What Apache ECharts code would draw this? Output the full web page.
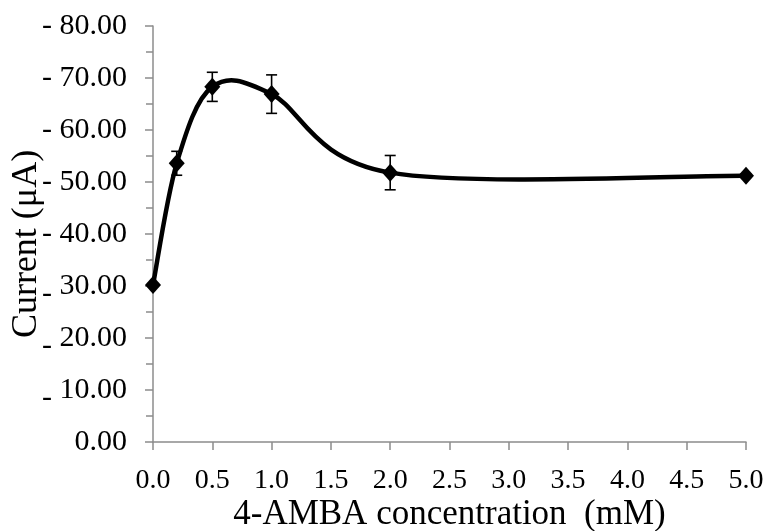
<!DOCTYPE html>
<html>
<head>
<meta charset="utf-8">
<script src="https://cdn.jsdelivr.net/npm/echarts@6/dist/echarts.min.js"></script>
<style>
html,body{margin:0;padding:0;background:#fff;}
#chart{width:767px;height:531px;}
</style>
</head>
<body>
<div id="chart"></div>
<script>
// Data
const concentrations = [0, 0.2, 0.5, 1.0, 2.0, 5.0];          // mM
const currents = [-30.2, -53.6, -68.3, -66.9, -51.8, -51.2];   // µA
const errors = [0.3, 2.3, 2.8, 3.7, 3.3, 0.3];                 // µA (±)
const xTicks = [0, 0.5, 1, 1.5, 2, 2.5, 3, 3.5, 4, 4.5, 5];
const yTicks = [0, -10, -20, -30, -40, -50, -60, -70, -80];

const lineData = concentrations.map((x, i) => [x, currents[i]]);
const errData = concentrations.map((x, i) => [x, currents[i] - errors[i], currents[i] + errors[i]]);
const segData = concentrations.slice(0, -1).map((x, i) => [x, currents[i], i]);

const chart = echarts.init(document.getElementById('chart'), null, {renderer: 'canvas'});
const font = '"Liberation Serif", "Times New Roman", serif';
const axisGray = '#8c8c8c';
const yLabelSize = 30;

chart.setOption({
  animation: false,
  backgroundColor: '#fff',
  grid: {left: 153, right: 21, top: 26, bottom: 89, containLabel: false, outerBoundsMode: 'none'},
  xAxis: {
    type: 'value',
    min: xTicks[0],
    max: xTicks[xTicks.length - 1],
    interval: 0.5,
    name: '4-AMBA concentration  (mM)',
    nameLocation: 'middle',
    nameGap: 55,
    nameMoveOverlap: false,
    nameTextStyle: {fontFamily: font, fontSize: 35, color: '#000'},
    axisLine: {show: true, lineStyle: {color: axisGray, width: 1.5}},
    axisTick: {show: true, inside: false, length: 8, lineStyle: {color: axisGray, width: 1.5}},
    axisLabel: {
      margin: 25, fontFamily: font, fontSize: 28, color: '#000',
      formatter: v => v.toFixed(1)
    },
    splitLine: {show: false}
  },
  yAxis: {
    type: 'value',
    inverse: true,
    min: yTicks[yTicks.length - 1],
    max: yTicks[0],
    interval: 10,
    name: 'Current (μA)',
    nameLocation: 'middle',
    nameGap: 108,
    nameMoveOverlap: false,
    nameRotate: 90,
    nameTextStyle: {fontFamily: font, fontSize: 36, color: '#000', padding: [0, 20, 0, 0]},
    axisLine: {show: true, lineStyle: {color: axisGray, width: 1.5}},
    axisTick: {show: true, inside: false, length: 8, lineStyle: {color: axisGray, width: 1.5}},
    minorTick: {show: true, splitNumber: 2, length: 7, lineStyle: {color: axisGray, width: 1.5}},
    axisLabel: {
      margin: 26, fontFamily: font, fontSize: yLabelSize, color: '#000',
      formatter: v => {
        if (v === 0) return '{d|0.00}';
        const sign = v >= -30 ? '{lo|- }' : '{m|- }';
        return sign + '{d|' + Math.abs(v).toFixed(2) + '}';
      },
      rich: {
        d: {fontFamily: font, fontSize: yLabelSize, color: '#000', lineHeight: 32},
        m: {fontFamily: font, fontSize: yLabelSize, color: '#000', lineHeight: 32},
        lo: {fontFamily: font, fontSize: yLabelSize, color: '#000', lineHeight: 32, padding: [16, 0, 0, 0]}
      }
    },
    splitLine: {show: false}
  },
  series: [
    {
      // Smoothed curve (Catmull-Rom style Bezier segments, like a spreadsheet "smoothed line")
      type: 'custom',
      data: segData,
      z: 2,
      renderItem: function (params, api) {
        const i = api.value(2);
        const n = concentrations.length;
        const P = k => api.coord([concentrations[Math.max(0, Math.min(n - 1, k))], currents[Math.max(0, Math.min(n - 1, k))]]);
        const p0 = P(i - 1), p1 = P(i), p2 = P(i + 1), p3 = P(i + 2);
        return {
          type: 'bezierCurve',
          shape: {
            x1: p1[0], y1: p1[1], x2: p2[0], y2: p2[1],
            cpx1: p1[0] + (p2[0] - p0[0]) / 6, cpy1: p1[1] + (p2[1] - p0[1]) / 6,
            cpx2: p2[0] - (p3[0] - p1[0]) / 6, cpy2: p2[1] - (p3[1] - p1[1]) / 6
          },
          style: {stroke: '#000', lineWidth: 4.5, fill: null}
        };
      }
    },
    {
      type: 'line',
      data: lineData,
      symbol: 'diamond',
      symbolSize: [16, 18],
      lineStyle: {width: 0, opacity: 0},
      itemStyle: {color: '#000'},
      z: 3
    },
    {
      type: 'custom',
      data: errData,
      z: 4,
      renderItem: function (params, api) {
        const x = api.value(0);
        const lo = api.coord([x, api.value(1)]);
        const hi = api.coord([x, api.value(2)]);
        const w = 5.5;
        const style = {stroke: '#000', lineWidth: 1.6};
        return {
          type: 'group',
          children: [
            {type: 'line', shape: {x1: lo[0], y1: lo[1], x2: hi[0], y2: hi[1]}, style},
            {type: 'line', shape: {x1: lo[0] - w, y1: lo[1], x2: lo[0] + w, y2: lo[1]}, style},
            {type: 'line', shape: {x1: hi[0] - w, y1: hi[1], x2: hi[0] + w, y2: hi[1]}, style}
          ]
        };
      }
    }
  ]
});
</script>
</body>
</html>
